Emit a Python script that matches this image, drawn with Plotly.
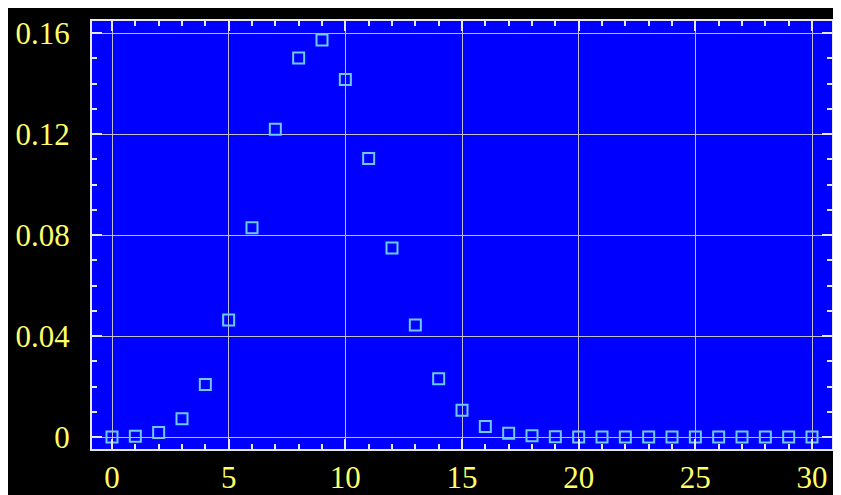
import plotly.graph_objects as go

k_values = list(range(0, 31))
probabilities = [0.0000, 0.0003, 0.0018, 0.0072, 0.0208, 0.0464, 0.0829, 0.1219,
                 0.1501, 0.1573, 0.1416, 0.1103, 0.0749, 0.0444, 0.0231, 0.0106,
                 0.0042, 0.0015, 0.0005, 0.0001, 0.0000, 0.0000, 0.0000, 0.0000,
                 0.0000, 0.0000, 0.0000, 0.0000, 0.0000, 0.0000, 0.0000]
x_tick_vals = [0, 5, 10, 15, 20, 25, 30]
y_tick_vals = [0, 0.04, 0.08, 0.12, 0.16]
y_tick_text = ["0", "0.04", "0.08", "0.12", "0.16"]

fig = go.Figure()
fig.add_trace(go.Scatter(
    x=k_values, y=probabilities, mode="markers",
    marker=dict(symbol="square-open", size=11, color="#6ccaf4",
                line=dict(width=2, color="#6ccaf4")),
    showlegend=False,
))

grid_col = "rgba(210,210,200,0.9)"
frame_col = "#e8e8e8"
tick_font = dict(family="Liberation Serif", size=31, color="#ffff66")

fig.update_layout(
    width=833, height=487,
    margin=dict(l=84, r=9, t=13, b=46, autoexpand=False),
    paper_bgcolor="black",
    plot_bgcolor="#0000ff",
    xaxis=dict(
        range=[-0.857, 30.857], tickvals=x_tick_vals, automargin=False,
        showgrid=True, gridcolor=grid_col, gridwidth=1.2, zeroline=False,
        ticks="inside", ticklen=10, tickcolor=frame_col, tickwidth=1.5,
        showline=True, linecolor=frame_col, linewidth=2, mirror="ticks",
        tickfont=tick_font, ticklabelstandoff=0,
        minor=dict(dtick=1, ticks="inside", ticklen=5, tickcolor=frame_col, showgrid=False),
    ),
    yaxis=dict(
        range=[-0.00475, 0.1648], tickvals=y_tick_vals, ticktext=y_tick_text, automargin=False,
        showgrid=True, gridcolor=grid_col, gridwidth=1.2, zeroline=False,
        ticks="inside", ticklen=10, tickcolor=frame_col, tickwidth=1.5,
        showline=True, linecolor=frame_col, linewidth=2, mirror="ticks",
        tickfont=tick_font, ticklabelstandoff=14,
        minor=dict(dtick=0.01, tick0=0, ticks="inside", ticklen=5, tickcolor=frame_col, showgrid=False),
    ),
)

fig.write_html("out.html")
